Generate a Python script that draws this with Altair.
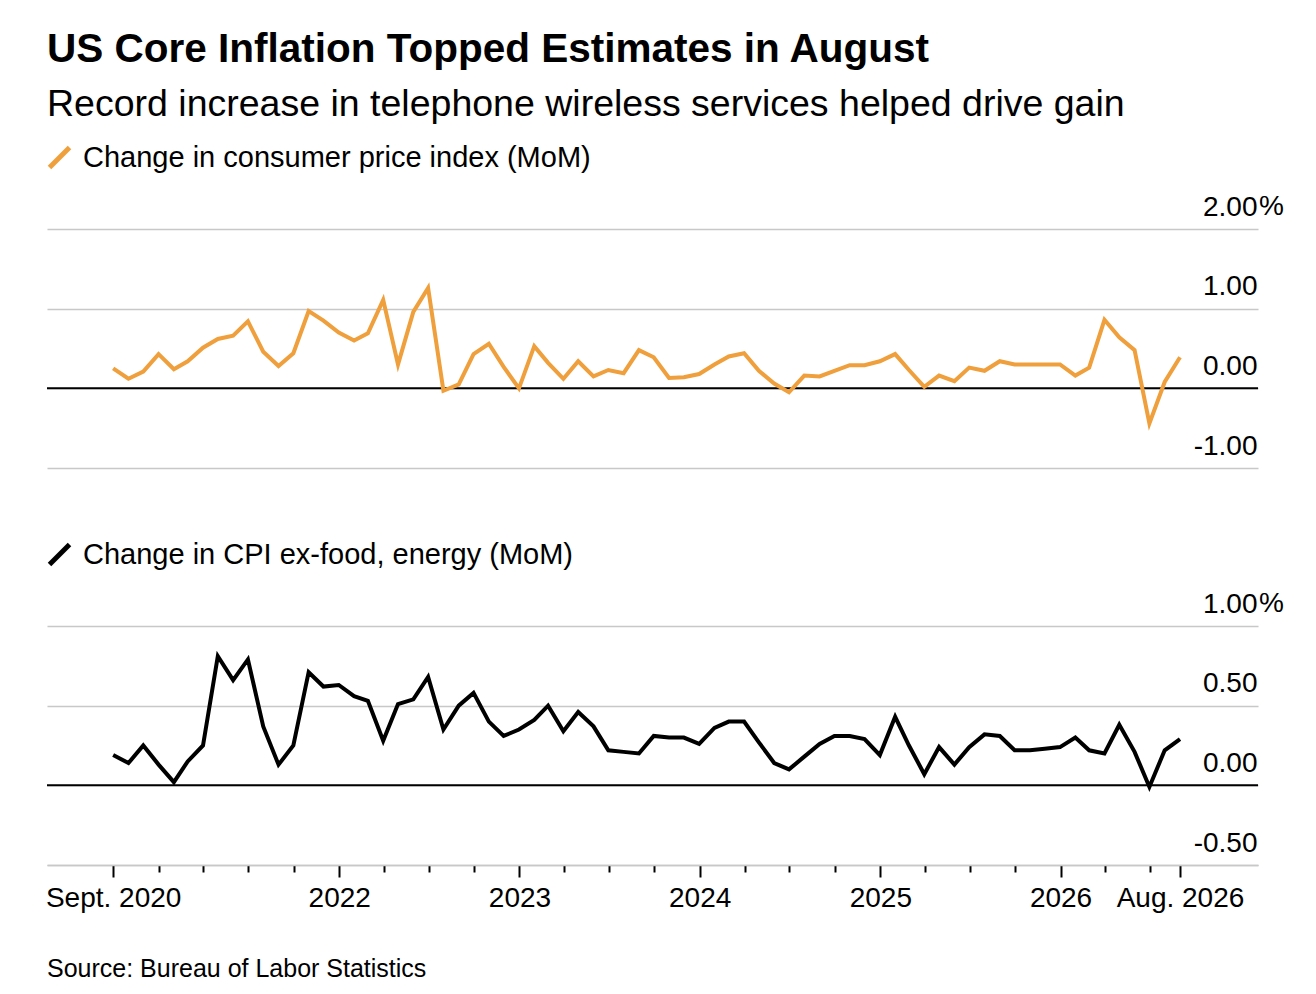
import altair as alt
import pandas as pd

FONT = "Liberation Sans"

TITLE = "US Core Inflation Topped Estimates in August"
SUBTITLE = "Record increase in telephone wireless services helped drive gain"
SOURCE = "Source: Bureau of Labor Statistics"
SERIES_TOP = "Change in consumer price index (MoM)"
SERIES_BOTTOM = "Change in CPI ex-food, energy (MoM)"

ORANGE = "#ef9f3b"
GRID = "#c8c8c8"

# Monthly observations, Sept. 2020 .. Aug. 2026 (72 months)
FIRST_MONTH = "2020-09-01"
N_MONTHS = 72

cpi_mom = [
    0.25, 0.12, 0.21, 0.43, 0.24, 0.34, 0.51, 0.62, 0.66, 0.84, 0.46, 0.28,
    0.44, 0.97, 0.85, 0.70, 0.60, 0.69, 1.11, 0.30, 0.96, 1.26, -0.03, 0.05,
    0.43, 0.56, 0.27, 0.00, 0.53, 0.32, 0.12, 0.34, 0.15, 0.23, 0.19, 0.48,
    0.39, 0.13, 0.14, 0.18, 0.30, 0.40, 0.44, 0.22, 0.06, -0.05, 0.16, 0.15,
    0.22, 0.29, 0.29, 0.34, 0.43, 0.23, 0.02, 0.16, 0.09, 0.26, 0.22, 0.34,
    0.30, 0.30, 0.30, 0.30, 0.16, 0.26, 0.86, 0.64, 0.48, -0.44, 0.08, 0.39,
]

core_mom = [
    0.19, 0.14, 0.25, 0.13, 0.02, 0.15, 0.25, 0.81, 0.66, 0.79, 0.37, 0.13,
    0.25, 0.71, 0.62, 0.63, 0.56, 0.53, 0.28, 0.51, 0.54, 0.68, 0.35, 0.50,
    0.58, 0.40, 0.31, 0.35, 0.41, 0.50, 0.34, 0.46, 0.37, 0.22, 0.21, 0.20,
    0.31, 0.30, 0.30, 0.26, 0.36, 0.40, 0.40, 0.27, 0.14, 0.10, 0.18, 0.26,
    0.31, 0.31, 0.29, 0.19, 0.43, 0.25, 0.07, 0.24, 0.13, 0.24, 0.32, 0.31,
    0.22, 0.22, 0.23, 0.24, 0.30, 0.22, 0.20, 0.38, 0.21, -0.01, 0.22, 0.29,
]

# x axis
x_domain_dates = ["2020-05-19", "2027-02-05"]
major_tick_dates = ["2020-09-30", "2022-01-01", "2023-01-01", "2024-01-01",
                    "2025-01-01", "2026-01-01", "2026-08-31"]
major_tick_labels = ["Sept. 2020", "2022", "2023", "2024", "2025", "2026", "Aug. 2026"]
minor_tick_dates = ["2021-01-01", "2021-04-01", "2021-07-01", "2021-10-01",
                    "2022-04-01", "2022-07-01", "2022-10-01",
                    "2023-04-01", "2023-07-01", "2023-10-01",
                    "2024-04-01", "2024-07-01", "2024-10-01",
                    "2025-04-01", "2025-07-01", "2025-10-01",
                    "2026-04-01", "2026-07-01"]

# y axes
top_ticks = [-1, 0, 1, 2]
top_tick_labels = ["-1.00", "0.00", "1.00", "2.00"]
bottom_ticks = [-0.5, 0, 0.5, 1]
bottom_tick_labels = ["-0.50", "0.00", "0.50", "1.00"]

W = 1211
H = 239


def ms(s):
    return int(pd.Timestamp(s).value // 10**6)


month_ends = pd.date_range(start=FIRST_MONTH, periods=N_MONTHS, freq="MS") + pd.offsets.MonthEnd(0)
dates_ms = [int(d.value // 10**6) for d in month_ends]

major_ms = [ms(d) for d in major_tick_dates]
minor_ms = [ms(d) for d in minor_tick_dates]
all_ticks = sorted(major_ms + minor_ms)

x_label_expr = " : ".join(
    f"time(datum.value) == {m} ? '{l}'" for m, l in zip(major_ms, major_tick_labels)
) + " : ''"
major_list = "[" + ",".join(str(m) for m in major_ms) + "]"

x_scale = alt.Scale(domain=[ms(x_domain_dates[0]), ms(x_domain_dates[1])], nice=False)

x_axis = alt.Axis(
    values=all_ticks,
    labelExpr=x_label_expr,
    tickSize={"condition": {"test": f"indexof({major_list}, time(datum.value)) >= 0", "value": 12}, "value": 7},
    tickWidth=2,
    tickColor="black",
    domainColor=GRID,
    domainWidth=1.5,
    grid=False,
    labelFont=FONT,
    labelFontSize=28,
    labelColor="black",
    labelPadding=7,
    labelBaseline="top",
    labelAlign="center",
    labelOverlap=False,
    labelFlush=False,
    title=None,
)


def y_label_expr(ticks, labels):
    return " : ".join(f"datum.value == {t} ? '{l}'" for t, l in zip(ticks, labels)) + " : ''"


def panel(values, color, ticks, labels, series_name, show_x):
    df = pd.DataFrame({"date": dates_ms, "value": values, "series": series_name})
    y_scale = alt.Scale(domain=[min(ticks), max(ticks)], nice=False, zero=False)
    y_axis = alt.Axis(
        orient="right",
        values=ticks,
        labelExpr=y_label_expr(ticks, labels),
        domain=False,
        ticks=False,
        tickSize=0,
        grid=True,
        gridColor=GRID,
        gridWidth=1.5,
        labelAlign="right",
        labelPadding=-1,
        labelBaseline="alphabetic",
        labelOffset=-14,
        labelFont=FONT,
        labelFontSize=28,
        labelColor="black",
        labelOverlap=False,
        labelFlush=False,
        title=None,
    )
    line = alt.Chart(df).mark_line(strokeWidth=4).encode(
        x=alt.X("date:T", scale=x_scale, axis=x_axis if show_x else None, title=None),
        y=alt.Y("value:Q", scale=y_scale, axis=y_axis, title=None),
        color=alt.Color(
            "series:N",
            scale=alt.Scale(domain=[series_name], range=[color]),
            title=None,
            legend=alt.Legend(
                orient="none",
                legendX=-2,
                legendY=-86,
                symbolType="M-1,1L1,-1",
                symbolSize=400,
                symbolStrokeWidth=5,
                labelFont=FONT,
                labelFontSize=29,
                labelColor="black",
                labelOffset=9,
                labelLimit=1000,
                padding=0,
            ),
        ),
    )
    zero = alt.Chart(pd.DataFrame({"zero": [0]})).mark_rule(color="black", strokeWidth=2).encode(
        y=alt.Y("zero:Q", scale=y_scale)
    )
    pct = alt.Chart(pd.DataFrame({"top": [max(ticks)]})).mark_text(
        text="%", align="left", baseline="alphabetic", dy=-14, dx=1,
        font=FONT, fontSize=28, color="black"
    ).encode(
        y=alt.Y("top:Q", scale=y_scale),
        x=alt.value(W),
    )
    return alt.layer(zero, line, pct).properties(width=W, height=H)


top = panel(cpi_mom, ORANGE, top_ticks, top_tick_labels, SERIES_TOP, False)
bottom = panel(core_mom, "black", bottom_ticks, bottom_tick_labels, SERIES_BOTTOM, True).properties(
    title=alt.TitleParams(
        SOURCE, orient="bottom", anchor="start", frame="group", font=FONT,
        fontSize=25, fontWeight="normal", color="black", offset=45, baseline="top",
    )
)

chart = alt.vconcat(top, bottom, spacing=158, bounds="flush").resolve_scale(
    color="independent", y="independent"
).properties(
    title=alt.TitleParams(
        TITLE,
        subtitle=SUBTITLE,
        anchor="start",
        frame="group",
        font=FONT,
        fontSize=40.5,
        fontWeight="bold",
        color="black",
        subtitleFont=FONT,
        subtitleFontSize=37.5,
        subtitleColor="black",
        subtitlePadding=15,
        offset=20,
    ),
    padding={"left": 37, "top": 22, "right": 5, "bottom": 5},
).configure(background="white").configure_view(stroke="transparent", strokeWidth=0)

chart.save("out.html", embed_options={"renderer": "svg", "actions": False})
